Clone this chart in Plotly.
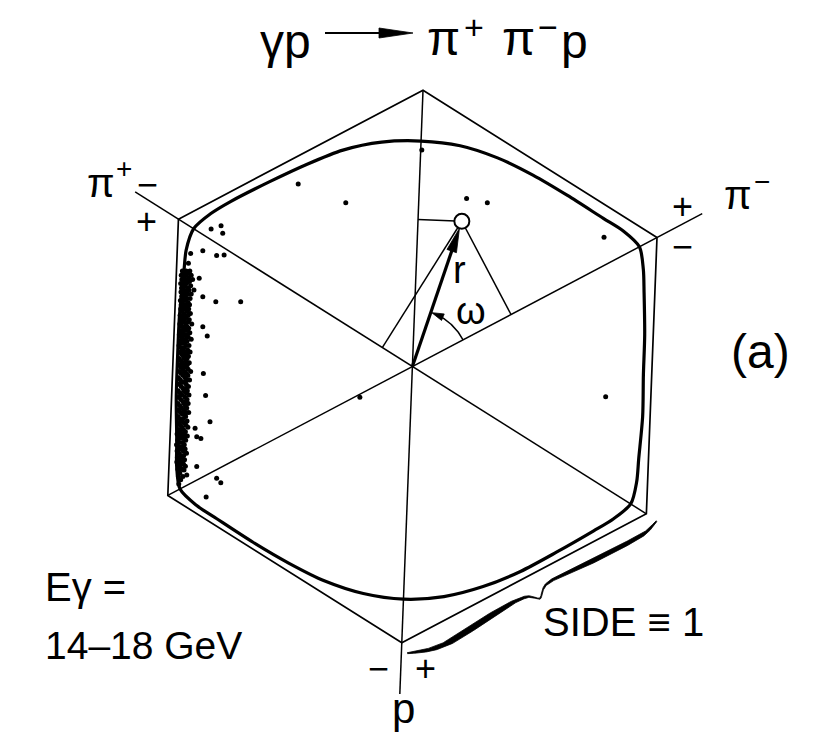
import numpy as np
import plotly.graph_objects as go

# ---------------------------------------------------------------- geometry
W, H = 833, 739
PX = 276.5              # pixels per unit hexagon side
CX, CY = 412.4, 366.5   # pixel position of the hexagon centre
TILT = -2.2             # whole diagram is turned slightly clockwise (deg)
FONT = "Liberation Sans"

VERTEX_ANGLES = [30, 90, 150, 210, 270, 330]
AXIS_OVERHANG = 1.185   # q=0 lines run a little past the hexagon

# ---------------------------------------------------------------- data
# kinematic boundary of the Van Hove plot: radius (side = 1) vs polar angle
BOUNDARY_ANGLE = [0, 10, 20, 25, 30, 35, 40, 50, 60, 70, 80, 90, 100, 110,
                  120, 130, 140, 145, 150, 155, 160, 170, 180, 190, 200, 205,
                  210, 215, 220, 230, 240, 250, 260, 270, 280, 290, 300, 310,
                  320, 325, 330, 335, 340, 350]
BOUNDARY_RADIUS = [0.836, 0.848, 0.880, 0.906, 0.928, 0.906, 0.874, 0.835,
                   0.818, 0.815, 0.817, 0.816, 0.819, 0.822, 0.825, 0.845,
                   0.888, 0.915, 0.935, 0.920, 0.893, 0.862, 0.850, 0.862,
                   0.895, 0.925, 0.950, 0.928, 0.897, 0.858, 0.840, 0.838,
                   0.840, 0.842, 0.840, 0.836, 0.838, 0.850, 0.885, 0.912,
                   0.933, 0.912, 0.884, 0.852]

# dense band of events along the left edge (one row per y value)
CLUSTER_ROW_Y = [0.345, 0.338, 0.330, 0.322, 0.315, 0.307, 0.300, 0.292,
                 0.284, 0.277, 0.269, 0.262, 0.254, 0.246, 0.239, 0.231,
                 0.223, 0.216, 0.208, 0.200, 0.192, 0.185, 0.177, 0.169,
                 0.161, 0.154, 0.146, 0.138, 0.130, 0.122, 0.115, 0.107,
                 0.099, 0.091, 0.084, 0.076, 0.068, 0.060, 0.052, 0.045,
                 0.037, 0.029, 0.021, 0.014, 0.006, -0.002, -0.010, -0.018,
                 -0.025, -0.033, -0.041, -0.049, -0.057, -0.064, -0.072,
                 -0.080, -0.088, -0.096, -0.103, -0.111, -0.119, -0.127,
                 -0.134, -0.142, -0.150, -0.158, -0.166, -0.173, -0.181,
                 -0.189, -0.197, -0.205, -0.212, -0.220, -0.228, -0.236,
                 -0.244, -0.251, -0.259, -0.267, -0.275, -0.283, -0.290,
                 -0.298, -0.306, -0.314, -0.322, -0.329, -0.337, -0.345,
                 -0.353, -0.361, -0.372, -0.385, -0.398, -0.410, -0.425]
CLUSTER_ROW_X = [
    [-0.832, -0.818, -0.805], [-0.826, -0.812], [-0.836, -0.820, -0.800],
    [-0.829, -0.809], [-0.834, -0.822, -0.814, -0.795], [-0.827, -0.806],
    [-0.838, -0.817], [-0.831, -0.823, -0.802], [-0.835, -0.813],
    [-0.826, -0.808, -0.790], [-0.837, -0.819], [-0.830, -0.812, -0.800],
    [-0.834, -0.822], [-0.828, -0.815, -0.804], [-0.839, -0.820],
    [-0.832, -0.811], [-0.836, -0.824, -0.806], [-0.829, -0.817],
    [-0.838, -0.821, -0.809], [-0.833, -0.814], [-0.827, -0.803],
    [-0.840, -0.822, -0.811], [-0.831, -0.818], [-0.836, -0.825, -0.807],
    [-0.829, -0.812], [-0.841, -0.820, -0.798], [-0.834, -0.816],
    [-0.827, -0.809], [-0.838, -0.822, -0.813], [-0.832, -0.805],
    [-0.843, -0.826, -0.817], [-0.835, -0.811], [-0.829, -0.820, -0.800],
    [-0.840, -0.815], [-0.833, -0.824], [-0.844, -0.818, -0.808],
    [-0.836, -0.827], [-0.831, -0.813], [-0.841, -0.822, -0.804],
    [-0.835, -0.817], [-0.828, -0.810], [-0.843, -0.825, -0.815],
    [-0.837, -0.819], [-0.832, -0.807], [-0.845, -0.826, -0.814],
    [-0.838, -0.820], [-0.831, -0.811], [-0.843, -0.824, -0.802],
    [-0.836, -0.817], [-0.829, -0.812], [-0.846, -0.822],
    [-0.839, -0.815, -0.806], [-0.832, -0.823], [-0.845, -0.818],
    [-0.836, -0.810], [-0.829, -0.820], [-0.847, -0.826, -0.814],
    [-0.840, -0.818], [-0.833, -0.808], [-0.845, -0.822], [-0.838, -0.815],
    [-0.830, -0.819], [-0.848, -0.826, -0.811], [-0.841, -0.821],
    [-0.835, -0.816], [-0.846, -0.827], [-0.839, -0.818, -0.809],
    [-0.832, -0.824], [-0.848, -0.820], [-0.842, -0.829], [-0.836, -0.815],
    [-0.849, -0.825], [-0.840, -0.819], [-0.834, -0.812], [-0.846, -0.828],
    [-0.839, -0.821], [-0.851, -0.832], [-0.843, -0.824, -0.814],
    [-0.837, -0.827], [-0.849, -0.820], [-0.842, -0.831], [-0.853, -0.825],
    [-0.846, -0.834], [-0.839, -0.822], [-0.851, -0.829], [-0.844, -0.817],
    [-0.838, -0.827], [-0.850, -0.833], [-0.843, -0.824], [-0.852, -0.836],
    [-0.846, -0.828], [-0.840, -0.821], [-0.848, -0.833], [-0.841],
    [-0.846, -0.830], [-0.838], [-0.845],
]

# isolated events elsewhere in the plot
SCATTER_X = [-0.413, -0.241, 0.196, 0.271, 0.034, -0.728, -0.692, -0.686,
             -0.758, -0.708, -0.681, -0.711, -0.621, -0.758, -0.742, -0.756,
             -0.748, -0.732, -0.786, -0.780, -0.765, -0.780, -0.708, -0.693,
             -0.746, 0.693, 0.699, -0.190, -0.771, -0.802, -0.810, -0.758,
             -0.826, -0.816]
SCATTER_Y = [0.660, 0.592, 0.608, 0.592, 0.783, 0.497, 0.509, 0.482,
             0.419, 0.401, 0.403, 0.234, 0.234, 0.144, 0.110, -0.025,
             -0.105, -0.200, -0.223, -0.254, -0.260, -0.362, -0.404, -0.420,
             -0.472, 0.467, -0.109, -0.111, 0.319, 0.409, 0.373, 0.252,
             -0.374, -0.392]

# example event: radius r and angle omega measured from the pi- axis
EVENT_R = 0.555
EVENT_OMEGA = 43.4
OMEGA_ARC_R = 0.207

# curly brace along the lower-right side (pixels along / out from the side)
BRACE_S = [0, 8, 24, 41, 61, 81, 101, 121, 133, 139, 143, 147, 153, 162,
           180, 200, 230, 258, 270, 282]
BRACE_N = [11.5, 15, 20, 22, 20.5, 18.5, 16.6, 16, 17.5, 22, 27, 21, 16,
           14.5, 15.5, 16.5, 17, 17.3, 16, 11]
BRACE_WS = [0, 15, 60, 100, 132, 143, 152, 175, 220, 262, 282]
BRACE_W = [1.0, 3.0, 6.0, 5.0, 2.0, 1.2, 1.6, 3.2, 4.8, 3.6, 1.0]


# ---------------------------------------------------------------- helpers
def pol(r, deg):
    t = np.radians(np.asarray(deg, dtype=float) + TILT)
    return r * np.cos(t), r * np.sin(t)


def from_px(x, y):
    return (x - CX) / PX, (CY - y) / PX


fig = go.Figure()
BLACK = "black"


def polyline(xs, ys, width):
    fig.add_trace(go.Scatter(x=xs, y=ys, mode="lines",
                             line=dict(color=BLACK, width=width),
                             hoverinfo="skip"))


def filled(xs, ys):
    fig.add_trace(go.Scatter(x=xs, y=ys, mode="lines", fill="toself",
                             fillcolor=BLACK, line=dict(color=BLACK, width=0.8),
                             hoverinfo="skip"))


def arrow(x0, y0, x1, y1, width, head_len, head_w):
    """Shaft from (x0, y0) to a filled head whose tip is at (x1, y1)."""
    d = np.array([x1 - x0, y1 - y0])
    u = d / np.linalg.norm(d)
    p = np.array([-u[1], u[0]])
    base = np.array([x1, y1]) - u * head_len / PX
    polyline([x0, base[0] + u[0] * 2 / PX], [y0, base[1] + u[1] * 2 / PX],
             width)
    l = base + p * head_w / 2 / PX
    r = base - p * head_w / 2 / PX
    filled([x1, l[0], r[0], x1], [y1, l[1], r[1], y1])


# hexagon
hx, hy = pol(1.0, VERTEX_ANGLES + [VERTEX_ANGLES[0]])
polyline(hx, hy, 1.7)

# the three q = 0 lines (pi+, pi-, p)
ax_x, ax_y = [], []
for far, near in [(150, 330), (30, 210), (270, 90)]:
    x1, y1 = pol(1.0, near)
    x2, y2 = pol(AXIS_OVERHANG, far)
    ax_x += [x1, x2, None]
    ax_y += [y1, y2, None]
polyline(ax_x, ax_y, 1.5)

# kinematic boundary
bx, by = pol(np.array(BOUNDARY_RADIUS + [BOUNDARY_RADIUS[0]]),
             BOUNDARY_ANGLE + [BOUNDARY_ANGLE[0] + 360])
fig.add_trace(go.Scatter(x=bx, y=by, mode="lines",
                         line=dict(color=BLACK, width=3.2, shape="spline",
                                   smoothing=0.8),
                         hoverinfo="skip"))

# events
cl_x = [x for row in CLUSTER_ROW_X for x in row]
cl_y = [y for y, row in zip(CLUSTER_ROW_Y, CLUSTER_ROW_X) for _ in row]
fig.add_trace(go.Scatter(x=cl_x + SCATTER_X, y=cl_y + SCATTER_Y,
                         mode="markers",
                         marker=dict(color=BLACK, size=5, line=dict(width=0)),
                         hoverinfo="skip"))

# example event, its projections on the three axes, and the omega arc
ev_angle = 30 + EVENT_OMEGA
ex, ey = pol(EVENT_R, ev_angle)
proj_x, proj_y = [], []
for a in [90, 150, 30]:
    ux, uy = pol(1.0, a)
    d = ex * ux + ey * uy
    proj_x += [ex, d * ux, None]
    proj_y += [ey, d * uy, None]
polyline(proj_x, proj_y, 1.5)

arc_deg = np.linspace(30, ev_angle - 6, 40)
arc_x, arc_y = pol(OMEGA_ARC_R, arc_deg)
polyline(arc_x, arc_y, 1.5)
hx0, hy0 = pol(OMEGA_ARC_R, ev_angle - 6)
hx1, hy1 = pol(OMEGA_ARC_R, ev_angle - 1)
arrow(hx0, hy0, hx1, hy1, 1.5, 12, 7)

# r vector from the centre up to the circle
tip_x, tip_y = pol(EVENT_R - 7.5 / PX, ev_angle)
arrow(0.0, 0.0, tip_x, tip_y, 3.2, 24, 10)

# reaction arrow in the title
a0 = from_px(325, 33)
a1 = from_px(413, 33)
arrow(a0[0], a0[1], a1[0], a1[1], 2.2, 34, 10)

# brace marking one side of the hexagon
v0 = np.array(pol(1.0, 270))
v1 = np.array(pol(1.0, 330))
tang = (v1 - v0) / np.linalg.norm(v1 - v0)
nrm = np.array(pol(1.0, 300))
s = np.linspace(0, 282, 500)
n = np.interp(s, BRACE_S, BRACE_N)
n = np.convolve(np.pad(n, 4, mode="edge"), np.ones(9) / 9, mode="valid")
w = np.interp(s, BRACE_WS, BRACE_W)
outer = v0[:, None] + (np.outer(tang, s) + np.outer(nrm, n + w / 2)) / PX
inner = v0[:, None] + (np.outer(tang, s) + np.outer(nrm, n - w / 2)) / PX
filled(np.r_[outer[0], inner[0][::-1]], np.r_[outer[1], inner[1][::-1]])

# open circle for the example event
fig.add_trace(go.Scatter(x=[ex], y=[ey], mode="markers",
                         marker=dict(symbol="circle", size=15, color="white",
                                     line=dict(color=BLACK, width=2)),
                         hoverinfo="skip"))

# ---------------------------------------------------------------- labels
ann = []


def label(text, px_x, px_y, size=38, xanchor="center"):
    x, y = from_px(px_x, px_y)
    ann.append(dict(text=text, x=x, y=y, xref="x", yref="y", showarrow=False,
                    xanchor=xanchor, yanchor="middle",
                    font=dict(family=FONT, size=size, color=BLACK)))


# reaction title
label("γp", 258, 41, size=48, xanchor="left")
label("π", 443, 38, size=48)
label("+", 474, 27, size=34)
label("π", 518, 38, size=48)
label("−", 548, 27, size=34)
label("p", 574, 41, size=48)

# axis names and sign markers
label("π", 101, 183, size=40)
label("+", 124, 168, size=28)
label("−", 147, 184, size=36)
label("+", 146, 221, size=36)
label("π", 738, 195, size=40)
label("−", 762, 181, size=28)
label("+", 682, 206, size=36)
label("−", 682, 246, size=36)
label("−", 378, 668, size=36)
label("+", 425, 668, size=36)
label("p", 403, 708, size=42)

label("r", 459, 270, size=38)
label("ω", 471, 311, size=38)
label("(a)", 760, 351, size=48)

label("Eγ =", 43, 587, size=40, xanchor="left")
label("14–18 GeV", 43, 645, size=39, xanchor="left")
label("SIDE ≡ 1", 541, 622, size=40, xanchor="left")

x_lo, y_hi = from_px(0, 0)
x_hi, y_lo = from_px(W, H)
fig.update_layout(
    width=W, height=H, margin=dict(l=0, r=0, t=0, b=0),
    paper_bgcolor="white", plot_bgcolor="white", showlegend=False,
    xaxis=dict(range=[x_lo, x_hi], visible=False),
    yaxis=dict(range=[y_lo, y_hi], visible=False),
    annotations=ann,
)

fig.write_html("out.html")
